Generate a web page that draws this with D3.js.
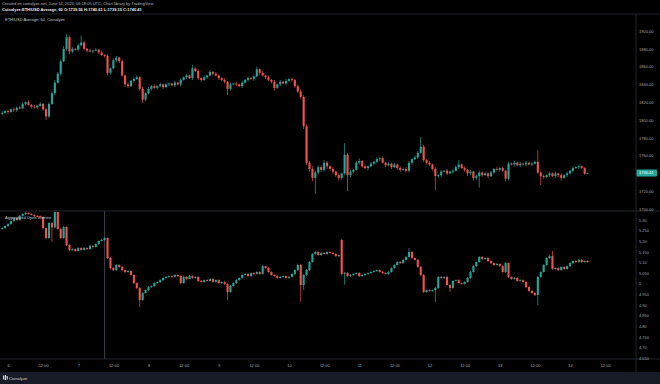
<!DOCTYPE html>
<html><head><meta charset="utf-8">
<script src="https://cdn.jsdelivr.net/npm/d3@7"></script>
<style>
html,body{margin:0;padding:0;background:#000;}
svg{display:block;}
text{font-family:"Liberation Sans",Arial,sans-serif;}
</style></head><body>
<svg id="c" width="660" height="384"></svg>
<script>
// ---------- DATA ----------
const priceClose = [1808,1810,1809,1812,1811,1814,1813,1818,1820,1817,
 1815,1814,1816,1818,1812,1804,1818,1830,1842,1852,
 1866,1880,1893,1877,1880,1879,1884,1887,1880,1878,
 1877,1878,1879,1876,1873,1872,1853,1858,1867,1870,
 1866,1850,1840,1838,1844,1846,1848,1835,1823,1830,
 1835,1838,1836,1838,1840,1837,1840,1841,1839,1842,
 1840,1845,1848,1850,1847,1858,1855,1847,1845,1848,
 1850,1854,1852,1850,1847,1845,1843,1835,1840,1841,
 1840,1838,1842,1845,1847,1846,1849,1857,1853,1850,
 1848,1845,1843,1836,1840,1843,1841,1844,1846,1845,
 1838,1832,1826,1793,1752,1745,1735,1741,1747,1744,
 1752,1748,1745,1742,1738,1735,1740,1761,1738,1742,
 1744,1752,1754,1748,1746,1748,1751,1753,1756,1757,
 1752,1749,1751,1747,1750,1746,1744,1745,1743,1752,
 1756,1758,1763,1770,1755,1752,1750,1745,1737,1738,
 1742,1743,1740,1742,1743,1747,1750,1746,1744,1740,
 1742,1735,1737,1741,1738,1740,1737,1741,1745,1744,
 1746,1743,1734,1751,1750,1752,1749,1751,1750,1752,
 1750,1751,1753,1741,1737,1736,1738,1740,1737,1740,
 1738,1735,1738,1740,1743,1746,1747,1748,1746,1739.56,
 1740.41];
const priceWickUp = [2,1,2,1,2,1,2,2,1,2, 1,2,1,2,1,2,2,2,3,2, 2,3,4,2,2,1,2,8,2,1,
 2,1,2,1,2,1,2,1,2,2, 1,2,1,2,1,2,2,1,2,1, 2,1,2,1,2,1,2,1,1,2,
 1,2,1,2,1,4,1,2,1,2, 1,2,1,2,1,1,2,1,2,1, 2,1,2,1,2,1,2,3,1,2,
 1,2,1,2,1,2,1,2,1,2, 1,2,2,2,2,2,3,2,2,2, 3,2,1,2,1,2,1,13,2,2,
 1,2,3,1,2,1,2,1,2,1, 2,1,2,1,2,1,2,1,2,2, 1,2,2,11,2,1,2,1,2,1,
 2,1,2,1,2,2,5,1,2,1, 2,1,2,2,1,2,1,2,1,2, 1,2,1,2,1,2,1,2,1,2,
 1,2,1,13,1,2,1,2,1,2, 1,2,1,2,1,2,1,2,1,1, 0.2];
const priceWickDn = [2,1,2,1,2,2,1,1,2,1, 2,1,2,1,2,4,2,1,2,1, 2,1,2,3,2,1,2,1,2,2,
 1,2,1,2,1,2,3,2,1,2, 2,1,3,2,1,2,1,2,4,2, 1,2,1,2,1,2,1,2,1,2,
 1,2,1,2,1,2,1,2,2,1, 2,1,2,1,2,1,2,7,2,1, 2,1,2,1,2,1,2,1,2,1,
 2,1,2,3,1,2,1,2,1,2, 2,2,2,3,3,3,4,18,2,2, 2,3,2,2,2,3,2,2,18,2,
 2,1,2,2,1,2,1,2,1,2, 1,2,1,2,1,2,2,1,2,2, 2,1,2,1,2,2,2,2,16,2,
 2,1,2,1,2,1,2,1,2,3, 2,3,2,13,2,1,2,1,2,1, 2,1,3,2,1,2,1,2,1,2,
 1,2,1,2,10,2,1,2,1,2, 2,3,1,2,1,2,1,2,1,1, 0.41];
const priceFirstOpen = 1807;

const oiClose = [5.262,5.272,5.281,5.295,5.309,5.300,5.319,5.328,5.333,5.328,
 5.324,5.319,5.318,5.314,5.262,5.215,5.286,5.265,5.338,5.258,
 5.215,5.267,5.182,5.158,5.163,5.154,5.168,5.159,5.168,5.163,
 5.178,5.173,5.187,5.201,5.206,5.215,5.121,5.074,5.064,5.088,
 5.079,5.064,5.055,5.060,5.041,5.003,4.980,4.923,4.956,4.970,
 4.984,4.989,5.003,5.008,5.017,5.027,5.032,5.036,5.032,5.041,
 5.036,5.003,5.032,5.022,5.036,5.027,5.032,5.013,5.008,5.017,
 5.013,5.022,5.008,5.017,5.003,5.008,4.999,4.961,4.989,5.003,
 5.017,5.027,5.041,5.046,5.036,5.050,5.046,5.055,5.046,5.083,
 5.074,5.055,5.041,5.036,5.027,5.032,5.036,5.027,5.032,5.046,
 5.064,5.088,4.994,5.041,5.064,5.102,5.140,5.149,5.135,5.145,
 5.140,5.149,5.145,5.140,5.130,5.135,5.046,5.050,5.036,5.041,
 5.046,5.050,5.036,5.041,5.046,5.050,5.055,5.060,5.064,5.055,
 5.050,5.046,5.055,5.074,5.088,5.102,5.097,5.112,5.126,5.149,
 5.121,5.112,5.079,5.041,4.961,4.970,4.966,4.970,4.980,5.032,
 5.027,5.032,4.994,4.980,5.013,5.017,5.003,4.999,5.008,5.027,
 5.055,5.083,5.102,5.126,5.116,5.121,5.107,5.097,5.088,5.093,
 5.083,5.055,5.097,5.032,5.022,5.027,5.013,5.017,5.008,4.984,
 4.966,4.956,4.947,5.032,5.055,5.088,5.121,5.130,5.069,5.074,
 5.064,5.079,5.069,5.083,5.097,5.107,5.102,5.112,5.102,5.107,
 5.102];
const oiOpenGaps = {116: 5.206};
const oiFirstOpen = 5.258;
// wicks in thousandths
const oiWickUp = [4,3,5,3,4,3,5,3,4,3, 4,3,4,3,4,3,5,4,3,4, 4,5,4,3,4,3,4,3,4,3,
 4,3,4,3,4,5,3,4,3,5, 3,4,3,4,3,4,3,4,5,3, 4,3,4,3,4,3,4,3,4,3,
 4,3,5,3,4,3,4,3,4,3, 4,3,4,3,4,3,4,3,5,3, 4,3,4,3,4,3,4,3,4,6,
 3,4,3,4,3,4,3,4,3,4, 4,6,5,4,4,5,4,5,4,3, 4,3,4,3,4,3,4,5,4,3,
 4,3,4,3,4,3,4,3,4,3, 4,3,4,3,4,5,4,3,4,19, 4,3,4,3,4,3,4,3,4,5,
 4,3,4,3,4,3,4,3,4,3, 4,5,3,4,3,4,3,4,3,4, 3,4,5,4,3,4,3,4,3,4,
 3,4,3,4,3,4,3,4,24,3, 4,3,4,3,4,3,4,3,4,3, 3];
const oiWickDn = [4,3,4,3,4,3,4,3,4,3, 3,4,3,4,5,6,4,69,5,4, 5,4,5,4,3,4,3,4,3,4,
 3,4,3,4,3,4,5,6,4,5, 4,5,4,3,4,6,5,33,4,3, 4,3,4,3,4,3,4,3,4,3,
 4,5,3,4,3,4,3,4,3,4, 3,4,3,4,3,4,5,38,4,3, 4,3,4,3,4,3,4,3,4,3,
 4,3,4,3,4,3,4,3,4,3, 4,5,80,24,5,4,3,4,3,4, 3,4,3,4,3,4,6,50,4,3,
 4,3,4,3,4,3,4,3,4,3, 4,3,4,3,4,3,4,3,4,3, 4,3,4,6,5,4,3,4,57,4,
 3,4,3,19,4,3,4,3,4,3, 4,3,4,3,4,3,4,3,4,3, 4,3,4,5,4,3,4,3,4,5,
 4,3,5,47,4,3,4,3,4,3, 4,3,4,3,4,3,4,3,4,3, 3];

const priceTicks = [1700,1720,1740,1760,1780,1800,1820,1840,1860,1880,1900];
const priceTickLabels = ["1700.00","1720.00","1740.00","1760.00","1780.00","1800.00","1820.00","1840.00","1860.00","1880.00","1900.00"];
const oiTicks = [4.65,4.70,4.75,4.80,4.85,4.90,4.95,5.00,5.05,5.10,5.15,5.20,5.25,5.30];
const oiTickLabels = ["4.650","4.70","4.750","4.80","4.850","4.90","4.950","5","5.050","5.10","5.150","5.20","5.250","5.30"];
const timeTickLabels = ["6","12:00","7","12:00","8","12:00","9","12:00","10","12:00","11","12:00","12","12:00","13","12:00","14","12:00"];
const lastPrice = "1740.41";
const markerHour = [2023,5,7,9];

// ---------- LAYOUT ----------
const svg = d3.select("#c");
const UP = "#26a69a", DN = "#ef5350";
const axisX = 636, footerY = 372, timeY = 359;
const topPane = [14, 211], botPane = [211, 359];

svg.append("rect").attr("width",660).attr("height",384).attr("fill","#000");
svg.append("rect").attr("x",0).attr("y",footerY).attr("width",660).attr("height",384-footerY).attr("fill","#171b26");

const t0 = Date.UTC(2023,5,5,22);
const times = priceClose.map((_,i)=>new Date(t0 + i*3600e3));
const x = d3.scaleUtc().domain([new Date(Date.UTC(2023,5,6)), new Date(Date.UTC(2023,5,14))]).range([8,570]);
const yP = d3.scaleLinear().domain([1700,1900]).range([209,31]);
const yO = d3.scaleLinear().domain([4.65,5.30]).range([358,220]);

function build(close, up, dn, firstOpen, gaps, unit){
  return close.map((c,i)=>{
    let o = i===0 ? firstOpen : close[i-1];
    if (gaps && gaps[i]!==undefined) o = gaps[i];
    const h = Math.max(o,c) + up[i]*unit;
    const l = Math.min(o,c) - dn[i]*unit;
    return {t:times[i], o, h, l, c};
  });
}
const priceData = build(priceClose, priceWickUp, priceWickDn, priceFirstOpen, null, 1);
const oiData = build(oiClose, oiWickUp, oiWickDn, oiFirstOpen, oiOpenGaps, 0.001);

const defs = svg.append("defs");
defs.append("clipPath").attr("id","cp1").append("rect").attr("x",0).attr("y",topPane[0]+0.5).attr("width",axisX).attr("height",topPane[1]-topPane[0]-1);
defs.append("clipPath").attr("id","cp2").append("rect").attr("x",0).attr("y",botPane[0]+0.5).attr("width",axisX).attr("height",botPane[1]-botPane[0]-1);

function drawCandles(data, y, clip){
  const g = svg.append("g").attr("clip-path",`url(#${clip})`);
  const gs = g.selectAll("g").data(data).join("g");
  gs.append("line")
    .attr("x1",d=>x(d.t)).attr("x2",d=>x(d.t))
    .attr("y1",d=>y(d.h)).attr("y2",d=>y(d.l))
    .attr("stroke",d=>d.c>=d.o?UP:DN).attr("stroke-width",0.7);
  gs.append("rect")
    .attr("x",d=>x(d.t)-1.05).attr("width",2.1)
    .attr("y",d=>Math.min(y(d.o),y(d.c)))
    .attr("height",d=>Math.max(0.8,Math.abs(y(d.o)-y(d.c))))
    .attr("fill",d=>d.c>=d.o?UP:DN);
}

// marker vertical line in lower pane
const mx = x(new Date(Date.UTC(...markerHour)));
svg.append("line").attr("x1",mx).attr("x2",mx).attr("y1",botPane[0]).attr("y2",botPane[1])
  .attr("stroke","#6a6d75").attr("stroke-width",0.6);

drawCandles(priceData, yP, "cp1");
drawCandles(oiData, yO, "cp2");

// frame lines
const lc = "#2a2e39";
svg.append("line").attr("x1",0).attr("x2",660).attr("y1",topPane[0]).attr("y2",topPane[0]).attr("stroke",lc).attr("stroke-width",0.8);
svg.append("line").attr("x1",0).attr("x2",660).attr("y1",botPane[0]).attr("y2",botPane[0]).attr("stroke",lc).attr("stroke-width",0.8);
svg.append("line").attr("x1",0).attr("x2",660).attr("y1",timeY).attr("y2",timeY).attr("stroke",lc).attr("stroke-width",0.8);
svg.append("line").attr("x1",axisX).attr("x2",axisX).attr("y1",topPane[0]).attr("y2",footerY).attr("stroke",lc).attr("stroke-width",0.8);

// axes
const fs = 4;
function styleAxis(g){
  g.select(".domain").remove();
  g.selectAll("text").attr("fill","#a3a6af").style("font-size",fs+"px").style("font-family","'Liberation Sans',Arial,sans-serif");
  g.selectAll(".tick line").remove();
}
svg.append("g").attr("transform",`translate(${axisX},0)`)
  .call(d3.axisRight(yP).tickValues(priceTicks).tickFormat((d,i)=>priceTickLabels[i]).tickSize(0).tickPadding(3))
  .call(styleAxis);
svg.append("g").attr("transform",`translate(${axisX},0)`)
  .call(d3.axisRight(yO).tickValues(oiTicks).tickFormat((d,i)=>oiTickLabels[i]).tickSize(0).tickPadding(3))
  .call(styleAxis);

const timeTicks = timeTickLabels.map((_,i)=>new Date(Date.UTC(2023,5,6) + i*12*3600e3));
svg.append("g").attr("transform",`translate(0,${timeY})`)
  .call(d3.axisBottom(x).tickValues(timeTicks).tickFormat((d,i)=>timeTickLabels[i]).tickSize(0).tickPadding(5.5))
  .call(styleAxis);

// last price badge
const ly = yP(+lastPrice);
svg.append("rect").attr("x",axisX+0.5).attr("y",ly-3.5).attr("width",20.5).attr("height",7).attr("rx",0.8).attr("fill",UP);
svg.append("text").attr("x",axisX+3).attr("y",ly).attr("dy","0.35em").attr("fill","#fff")
  .style("font-size",fs+"px").text(lastPrice);

// header texts
svg.append("text").attr("x",2).attr("y",4.7).attr("fill","#b2b5be").style("font-size","4px")
  .text("Created on coinalyze.net, June 14, 2023, 06:18:05 UTC, Chart library by TradingView");
svg.append("text").attr("x",2).attr("y",10.6).attr("fill","#e8e9ec").style("font-size","4px").style("font-weight","bold")
  .text("Coinalyze:ETH/USD Average, 60 O:1739.56 H:1740.61 L:1739.15 C:1740.41");
svg.append("text").attr("x",5).attr("y",20.8).attr("fill","#c3c6ce").style("font-size","4px")
  .text("ETH/USD Average, 60, Coinalyze");
svg.append("text").attr("x",5).attr("y",218.6).attr("fill","#c3c6ce").style("font-size","4px")
  .text("Aggregated Open Interest");

// footer logo
const lg = svg.append("g").attr("transform","translate(3,375)");
lg.append("rect").attr("x",0).attr("y",0.5).attr("width",1.2).attr("height",4).attr("fill","#d1d4dc");
lg.append("rect").attr("x",1.8).attr("y",0).attr("width",1.2).attr("height",5).attr("fill","#d1d4dc");
lg.append("rect").attr("x",3.6).attr("y",1).attr("width",1.2).attr("height",3.5).attr("fill","#d1d4dc");
svg.append("text").attr("x",9).attr("y",379.5).attr("fill","#d1d4dc").style("font-size","4.2px").text("Coinalyze");
</script></body></html>
